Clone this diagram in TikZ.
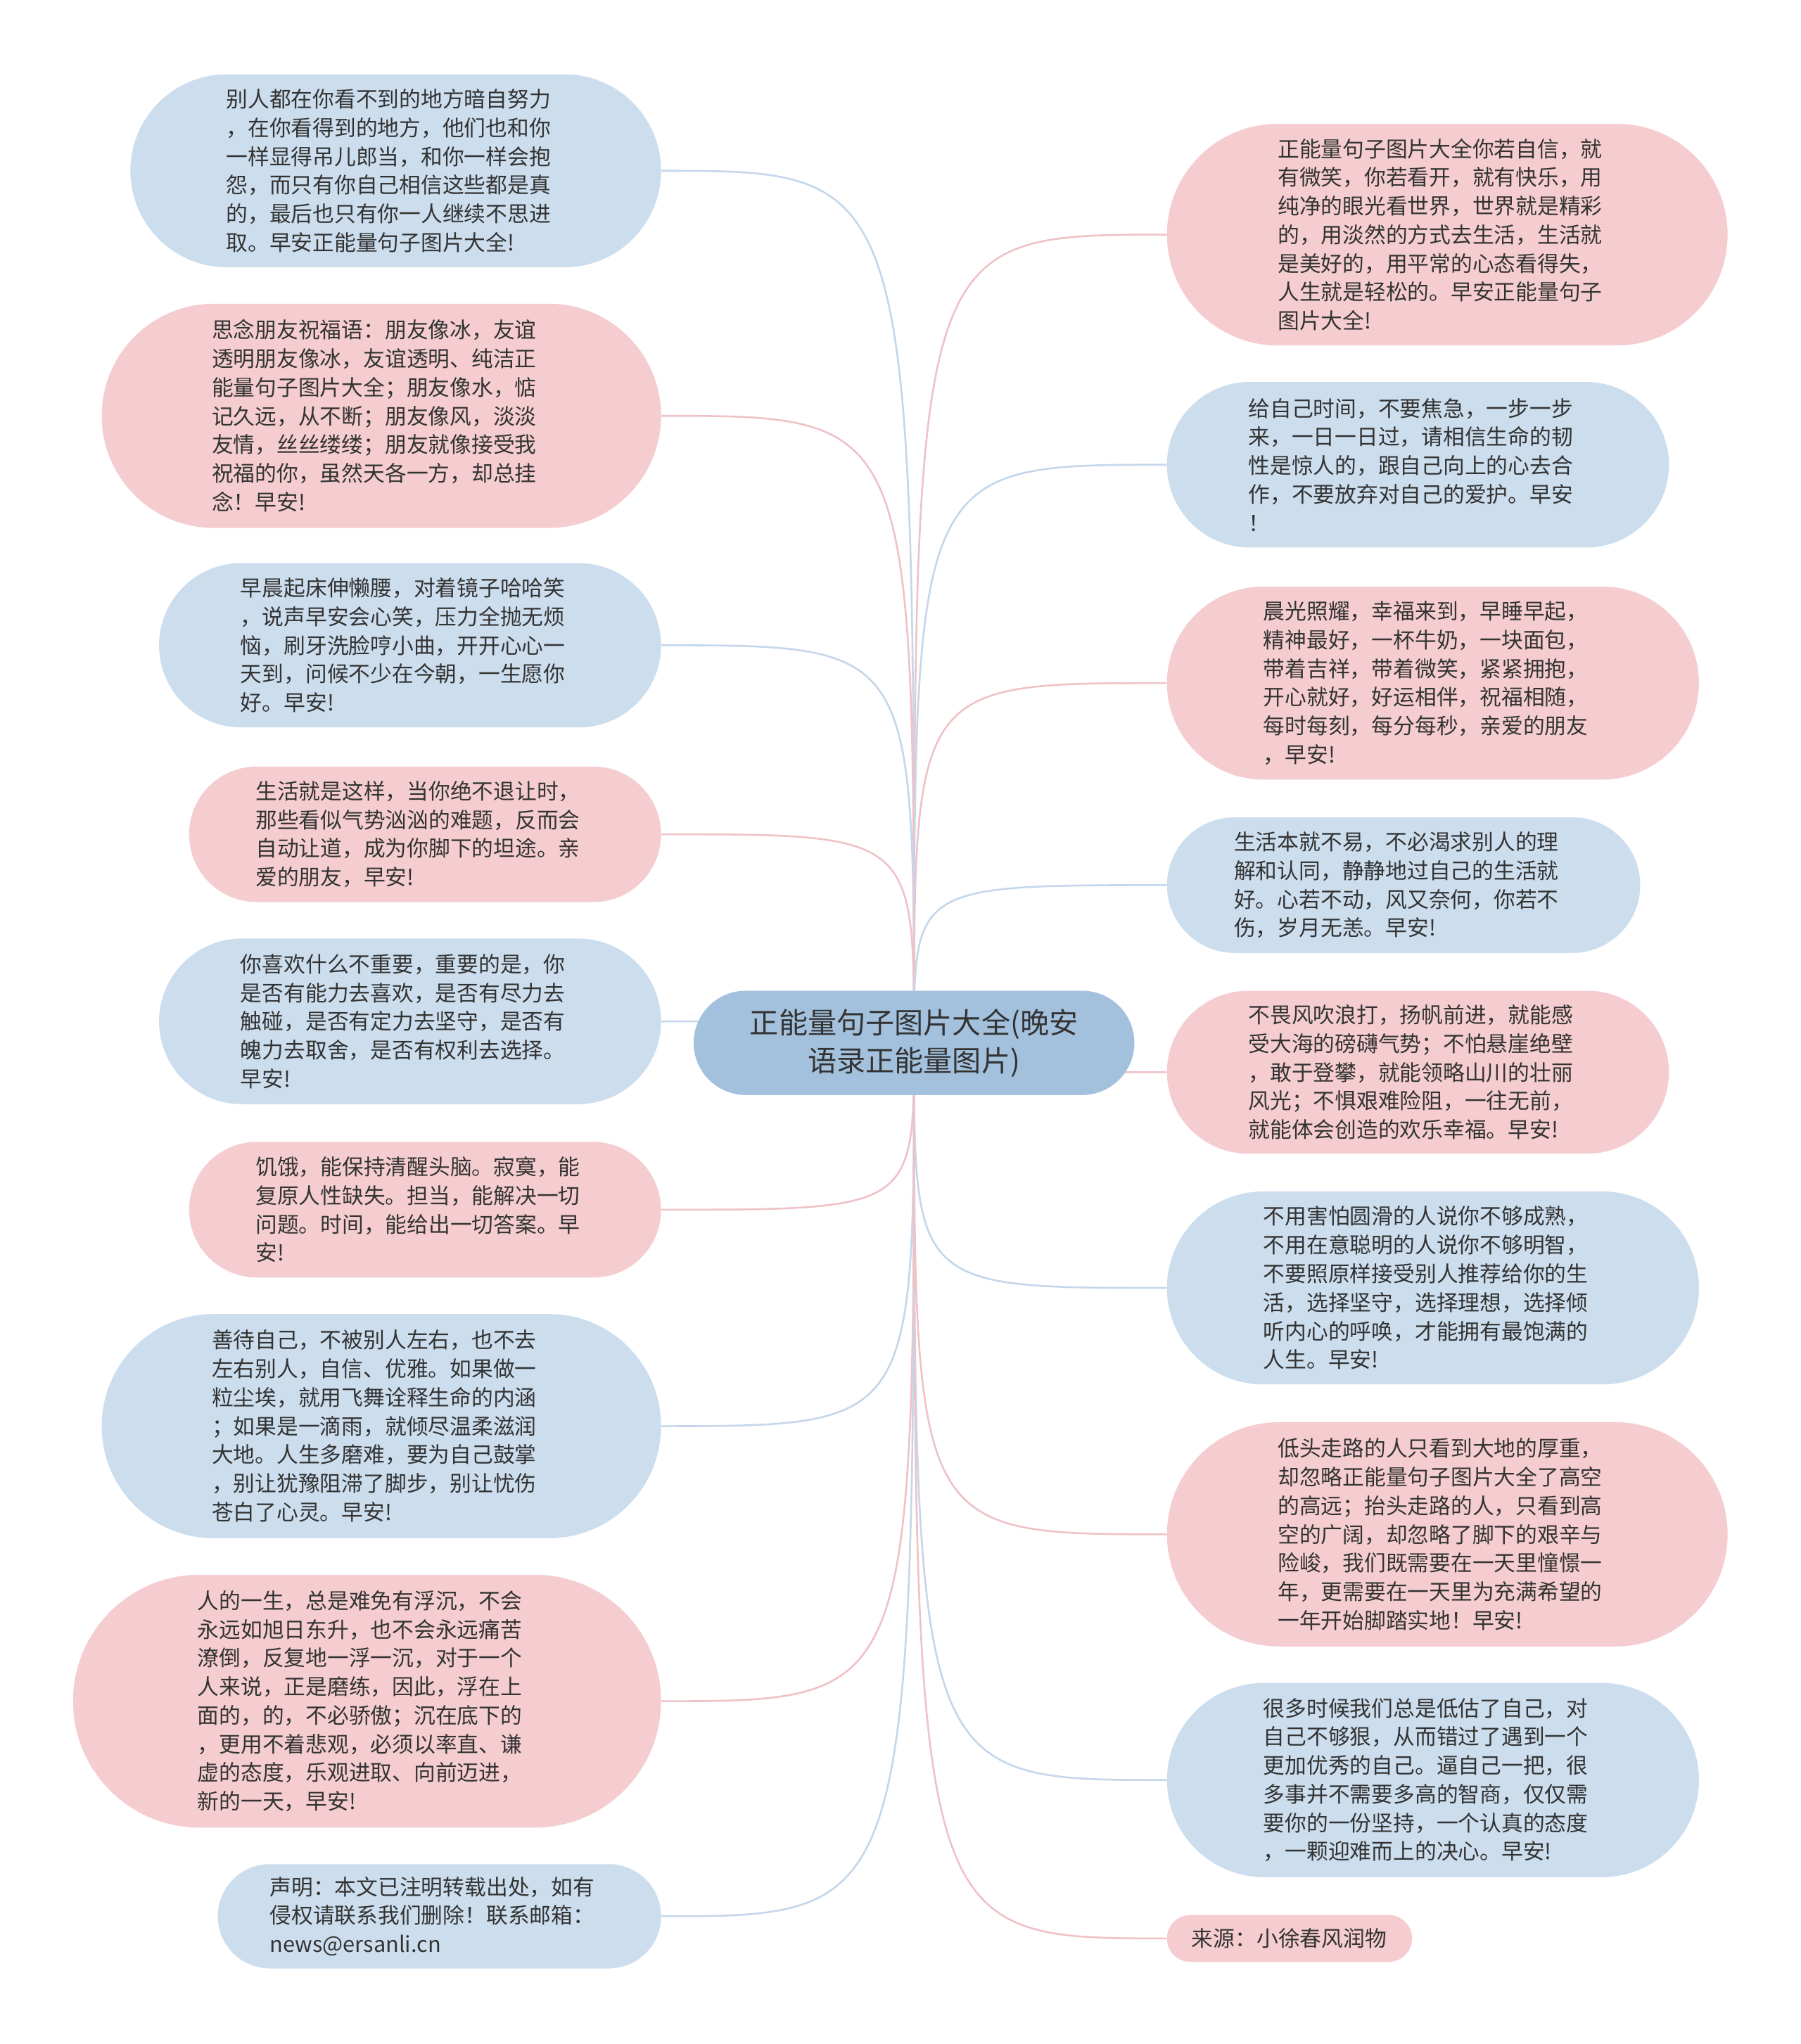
\documentclass[tikz,border=0pt]{standalone}
\usepackage{fontspec}
\setmainfont{Noto Sans CJK SC}
\usetikzlibrary{backgrounds}

\definecolor{pinkfill}{HTML}{F5CDD0}
\definecolor{bluefill}{HTML}{CCDDED}
\definecolor{rootfill}{HTML}{A3C1DD}
\definecolor{pinklink}{HTML}{EFC2C6}
\definecolor{bluelink}{HTML}{C4D7EA}
\definecolor{textgray}{HTML}{333333}

\newcommand{\leaffont}{\fontsize{16.6}{22}\selectfont}
\newcommand{\rootfont}{\fontsize{22.2}{29}\selectfont}

\begin{document}
\begin{tikzpicture}[
    x=1pt, y=-1pt,
    % Define styles
    leaf/.style={rectangle, align=left, text width=260pt, font=\leaffont, text=textgray, inner sep=0pt},
    pinkleaf/.style={leaf, fill=pinkfill},
    blueleaf/.style={leaf, fill=bluefill},
    pill/.style n args={2}{minimum width=#1, minimum height=#2, rounded corners=0.5*#2},
    root/.style={rectangle, align=center, font=\rootfont, text=textgray, fill=rootfill, inner sep=0pt},
    link/.style={line width=1.4pt}
]

    \useasboundingbox (0,0) rectangle (1381,1568);

    % --- CENTRE ---
    \node (root) [root, pill={338pt}{80pt}] at (701,800) {正能量句子图片大全(晚安\\语录正能量图片)};

    % --- LEFT BRANCHES ---
    \node (l1) [blueleaf, pill={407pt}{148pt}] at (303.5,131) {别人都在你看不到的地方暗自努力\\，在你看得到的地方，他们也和你\\一样显得吊儿郎当，和你一样会抱\\怨，而只有你自己相信这些都是真\\的，最后也只有你一人继续不思进\\取。早安正能量句子图片大全!};
    \node (l2) [pinkleaf, pill={429pt}{172pt}] at (292.5,319) {思念朋友祝福语：朋友像冰，友谊\\透明朋友像冰，友谊透明、纯洁正\\能量句子图片大全；朋友像水，惦\\记久远，从不断；朋友像风，淡淡\\友情，丝丝缕缕；朋友就像接受我\\祝福的你，虽然天各一方，却总挂\\念！早安!};
    \node (l3) [blueleaf, pill={385pt}{126pt}] at (314.5,495) {早晨起床伸懒腰，对着镜子哈哈笑\\，说声早安会心笑，压力全抛无烦\\恼，刷牙洗脸哼小曲，开开心心一\\天到，问候不少在今朝，一生愿你\\好。早安!};
    \node (l4) [pinkleaf, pill={362pt}{104pt}] at (326,640) {生活就是这样，当你绝不退让时，\\那些看似气势汹汹的难题，反而会\\自动让道，成为你脚下的坦途。亲\\爱的朋友，早安!};
    \node (l5) [blueleaf, pill={385pt}{127pt}] at (314.5,783.5) {你喜欢什么不重要，重要的是，你\\是否有能力去喜欢，是否有尽力去\\触碰，是否有定力去坚守，是否有\\魄力去取舍，是否有权利去选择。\\早安!};
    \node (l6) [pinkleaf, pill={362pt}{104pt}] at (326,928) {饥饿，能保持清醒头脑。寂寞，能\\复原人性缺失。担当，能解决一切\\问题。时间，能给出一切答案。早\\安!};
    \node (l7) [blueleaf, pill={429pt}{172pt}] at (292.5,1094) {善待自己，不被别人左右，也不去\\左右别人，自信、优雅。如果做一\\粒尘埃，就用飞舞诠释生命的内涵\\；如果是一滴雨，就倾尽温柔滋润\\大地。人生多磨难，要为自己鼓掌\\，别让犹豫阻滞了脚步，别让忧伤\\苍白了心灵。早安!};
    \node (l8) [pinkleaf, pill={451pt}{194pt}] at (281.5,1305) {人的一生，总是难免有浮沉，不会\\永远如旭日东升，也不会永远痛苦\\潦倒，反复地一浮一沉，对于一个\\人来说，正是磨练，因此，浮在上\\面的，的，不必骄傲；沉在底下的\\，更用不着悲观，必须以率直、谦\\虚的态度，乐观进取、向前迈进，\\新的一天，早安!};
    \node (l9) [blueleaf, pill={340pt}{80pt}] at (337,1470) {声明：本文已注明转载出处，如有\\侵权请联系我们删除！联系邮箱：\\news@ersanli.cn};

    % --- RIGHT BRANCHES ---
    \node (r1) [pinkleaf, pill={430pt}{170pt}] at (1110,180) {正能量句子图片大全你若自信，就\\有微笑，你若看开，就有快乐，用\\纯净的眼光看世界，世界就是精彩\\的，用淡然的方式去生活，生活就\\是美好的，用平常的心态看得失，\\人生就是轻松的。早安正能量句子\\图片大全!};
    \node (r2) [blueleaf, pill={385pt}{127pt}] at (1087.5,356.5) {给自己时间，不要焦急，一步一步\\来，一日一日过，请相信生命的韧\\性是惊人的，跟自己向上的心去合\\作，不要放弃对自己的爱护。早安\\！};
    \node (r3) [pinkleaf, pill={408pt}{148pt}] at (1099,524) {晨光照耀，幸福来到，早睡早起，\\精神最好，一杯牛奶，一块面包，\\带着吉祥，带着微笑，紧紧拥抱，\\开心就好，好运相伴，祝福相随，\\每时每刻，每分每秒，亲爱的朋友\\，早安!};
    \node (r4) [blueleaf, pill={363pt}{104pt}] at (1076.5,679) {生活本就不易，不必渴求别人的理\\解和认同，静静地过自己的生活就\\好。心若不动，风又奈何，你若不\\伤，岁月无恙。早安!};
    \node (r5) [pinkleaf, pill={385pt}{125pt}] at (1087.5,822.5) {不畏风吹浪打，扬帆前进，就能感\\受大海的磅礴气势；不怕悬崖绝壁\\，敢于登攀，就能领略山川的壮丽\\风光；不惧艰难险阻，一往无前，\\就能体会创造的欢乐幸福。早安!};
    \node (r6) [blueleaf, pill={408pt}{148pt}] at (1099,988) {不用害怕圆滑的人说你不够成熟，\\不用在意聪明的人说你不够明智，\\不要照原样接受别人推荐给你的生\\活，选择坚守，选择理想，选择倾\\听内心的呼唤，才能拥有最饱满的\\人生。早安!};
    \node (r7) [pinkleaf, pill={430pt}{172pt}] at (1110,1177) {低头走路的人只看到大地的厚重，\\却忽略正能量句子图片大全了高空\\的高远；抬头走路的人，只看到高\\空的广阔，却忽略了脚下的艰辛与\\险峻，我们既需要在一天里憧憬一\\年，更需要在一天里为充满希望的\\一年开始脚踏实地！早安!};
    \node (r8) [blueleaf, pill={408pt}{149pt}] at (1099,1365.5) {很多时候我们总是低估了自己，对\\自己不够狠，从而错过了遇到一个\\更加优秀的自己。逼自己一把，很\\多事并不需要多高的智商，仅仅需\\要你的一份坚持，一个认真的态度\\，一颗迎难而上的决心。早安!};
    \node (r9) [pinkleaf, text width=150pt, pill={188pt}{36pt}] at (989,1487) {来源：小徐春风润物};

    % --- DRAW CONNECTIONS ---
    \begin{scope}[on background layer]
        \fill[white] (0,0) rectangle (1381,1568);
        \foreach \n/\c in {l1/bluelink, l2/pinklink, l3/bluelink, l4/pinklink, l5/bluelink,
                           l6/pinklink, l7/bluelink, l8/pinklink, l9/bluelink}
            \draw [link, \c] (root.center) .. controls (root.center |- \n.east) .. (\n.east);
        \foreach \n/\c in {r1/pinklink, r2/bluelink, r3/pinklink, r4/bluelink, r5/pinklink,
                           r6/bluelink, r7/pinklink, r8/bluelink, r9/pinklink}
            \draw [link, \c] (root.center) .. controls (root.center |- \n.west) .. (\n.west);
    \end{scope}

\end{tikzpicture}
\end{document}
